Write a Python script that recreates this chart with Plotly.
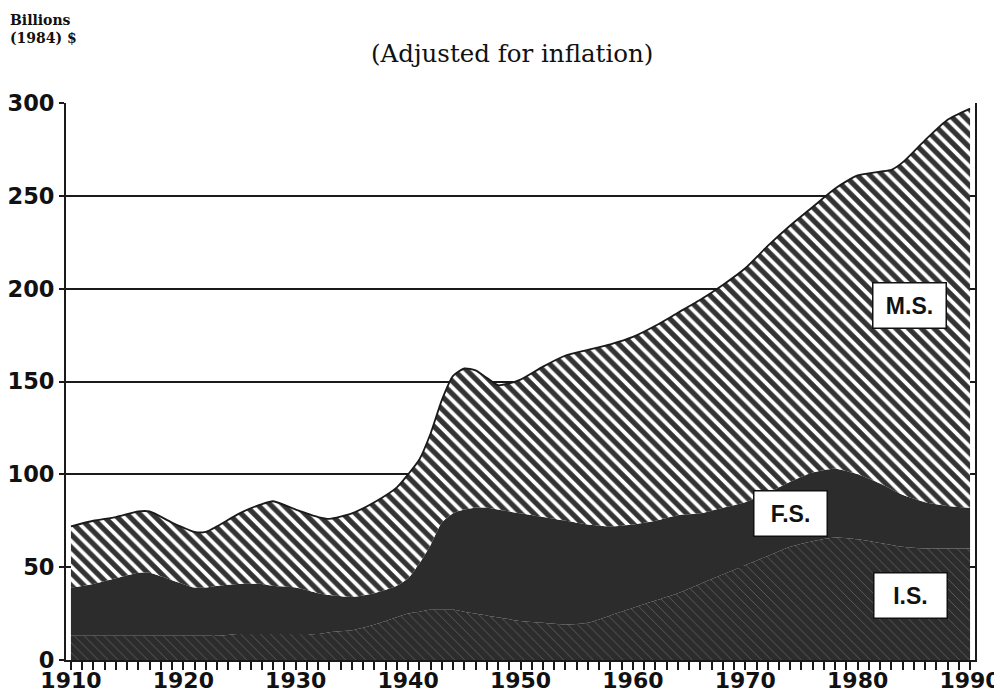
import plotly.graph_objects as go

years = [1910, 1912, 1914, 1916, 1917, 1919, 1921, 1922, 1923, 1925, 1927, 1928,
         1930, 1932, 1933, 1935, 1937, 1939, 1940, 1941, 1942, 1943, 1944, 1945,
         1946, 1947, 1948, 1949, 1950, 1952, 1954, 1956, 1958, 1960, 1962, 1964,
         1966, 1968, 1970, 1972, 1974, 1976, 1978, 1980, 1982, 1983, 1984, 1986,
         1988, 1990]

# I.S. (bottom layer), billions of 1984 $
is_vals = [13, 13, 13, 13, 13, 13, 13, 13, 13, 14, 14, 14,
           14, 14, 15, 16, 19, 23, 25, 26, 27, 27, 27, 26,
           25, 24, 23, 22, 21, 20, 19, 20, 24, 28, 32, 36,
           41, 46, 51, 56, 61, 64, 66, 65, 63, 62, 61, 60,
           60, 60]

# F.S. (middle layer)
fs_vals = [26, 28, 31, 34, 34, 30, 26, 26, 27, 27, 27, 26,
           25, 22, 20, 18, 17, 17, 19, 26, 35, 47, 52, 55,
           57, 58, 58, 58, 58, 57, 56, 53, 48, 45, 43, 42,
           38, 36, 34, 34, 35, 37, 37, 35, 32, 30, 28, 25,
           23, 22]

# M.S. (top layer)
ms_vals = [33, 34, 33, 33, 33, 31, 30, 30, 32, 38, 43, 45.5,
           42, 41, 41, 45, 49, 53, 56, 56, 60, 66, 74, 76,
           74, 70, 67, 69, 72, 81, 89, 94, 98, 101, 105, 109,
           115, 120, 126, 133, 138, 143, 151, 161, 168, 172, 179, 195,
           208, 215]

x_ticks = [1910, 1920, 1930, 1940, 1950, 1960, 1970, 1980, 1990]
y_ticks = [0, 50, 100, 150, 200, 250, 300]

labels = ["M.S.", "F.S.", "I.S."]
label_pos = [(1984.6, 191), (1974.0, 79), (1984.7, 35)]

X_RANGE = [1909.56, 1990.44]
DARK = "#2c2c2c"
INK = "#1a1a1a"

fig = go.Figure()

fig.add_trace(go.Scatter(
    x=years, y=is_vals, name="I.S.", mode="lines", stackgroup="one",
    line=dict(width=0, shape="spline", smoothing=0.6, color=DARK),
    fillcolor=DARK,
    fillpattern=dict(shape="\\", bgcolor=DARK, fgcolor="#bdbdbd",
                     fgopacity=0.45, size=7, solidity=0.1),
))
fig.add_trace(go.Scatter(
    x=years, y=fs_vals, name="F.S.", mode="lines", stackgroup="one",
    line=dict(width=0, shape="spline", smoothing=0.6, color=DARK),
    fillcolor=DARK,
))
fig.add_trace(go.Scatter(
    x=years, y=ms_vals, name="M.S.", mode="lines", stackgroup="one",
    line=dict(width=1.8, shape="spline", smoothing=0.6, color=INK),
    fillcolor=DARK,
    fillpattern=dict(shape="\\", bgcolor="#333333", fgcolor="#ffffff",
                     fgopacity=1, size=9, solidity=0.42),
))
# empty trace so the overlay axis (decade tick marks) is drawn
fig.add_trace(go.Scatter(x=[], y=[], xaxis="x2", yaxis="y", showlegend=False,
                         hoverinfo="skip"))

annotations = []
for txt, (ax, ay) in zip(labels, label_pos):
    annotations.append(dict(
        x=ax, y=ay, xref="x", yref="y", text="<b>" + txt + "</b>", showarrow=False,
        font=dict(family="Liberation Sans", size=23, color="#111111"),
        bgcolor="#ffffff", bordercolor="#111111", borderwidth=1.5,
        borderpad=3, width=66, height=38,
    ))

# page is offset by the 8px body margin, so figure coords = page coords - 8
annotations.append(dict(
    x=-0.0638, y=1.167, xref="paper", yref="paper", xanchor="left", yanchor="top",
    text="<b>Billions</b><br><b>(1984) $</b>", showarrow=False, align="left",
    font=dict(family="DejaVu Serif", size=14, color="#111111"),
))
annotations.append(dict(
    x=0.4906, y=1.088, xref="paper", yref="paper", xanchor="center", yanchor="middle",
    text="(Adjusted for inflation)", showarrow=False,
    font=dict(family="DejaVu Serif", size=24.5, color="#111111"),
))

fig.update_layout(
    width=994, height=686,
    margin=dict(l=58, r=27, t=95, b=34, autoexpand=False),
    paper_bgcolor="#ffffff", plot_bgcolor="#ffffff",
    showlegend=False,
    annotations=annotations,
    xaxis=dict(
        range=X_RANGE, tickvals=x_ticks,
        ticktext=[str(v) for v in x_ticks], automargin=False,
        ticklabeloverflow="allow",
        ticks="outside", ticklen=0, tickwidth=2, tickcolor=INK,
        minor=dict(dtick=1, ticks="outside", ticklen=8, tickwidth=1.5, tickcolor=INK),
        showline=True, linecolor=INK, linewidth=2, mirror=False,
        showgrid=False, zeroline=False,
        tickfont=dict(family="DejaVu Sans", size=22, color="#111111", weight="bold"),
    ),
    xaxis2=dict(
        range=X_RANGE, overlaying="x", anchor="y", side="bottom",
        tickvals=x_ticks, showticklabels=False, automargin=False,
        ticks="outside", ticklen=8, tickwidth=2, tickcolor=INK,
        showline=False, showgrid=False, zeroline=False,
    ),
    yaxis=dict(
        range=[0, 300], tickvals=y_ticks, ticktext=[str(v) for v in y_ticks],
        automargin=False, ticklabeloverflow="allow",
        ticks="outside", ticklen=5, tickwidth=2, tickcolor=INK,
        showline=True, linecolor=INK, linewidth=2, mirror=True,
        showgrid=True, gridcolor=INK, gridwidth=2, zeroline=False,
        tickfont=dict(family="DejaVu Sans", size=22.5, color="#111111", weight="bold"),
    ),
)

fig.write_html("out.html")
